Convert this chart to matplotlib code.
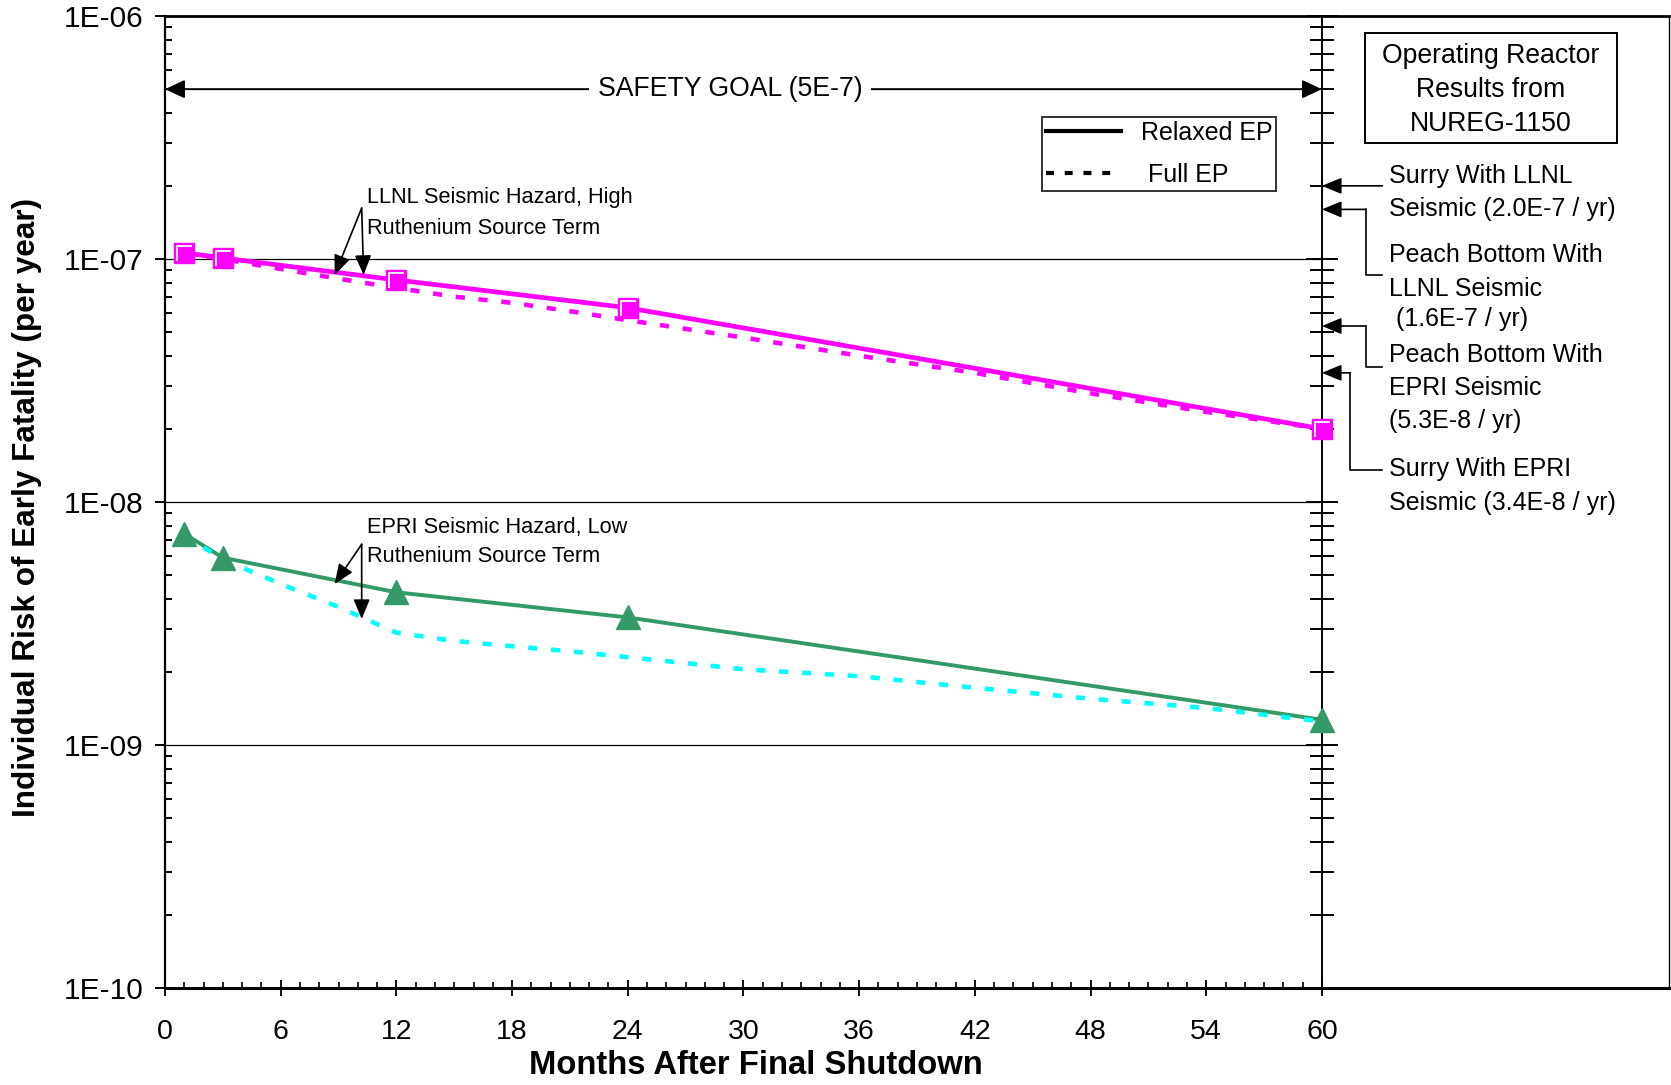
import matplotlib
matplotlib.use("Agg")
import matplotlib.pyplot as plt
from matplotlib.lines import Line2D
from matplotlib.patches import Rectangle
from matplotlib.path import Path
from matplotlib.ticker import FixedLocator, FuncFormatter, LogLocator, NullFormatter
import numpy as np

plt.rcParams['font.family'] = ['Liberation Sans', 'DejaVu Sans']

# ---------------- data ----------------
months_relaxed = [1, 3, 12, 24, 60]
llnl_relaxed = [1.06e-7, 1.01e-7, 8.2e-8, 6.3e-8, 2.0e-8]
epri_relaxed = [7.4e-9, 5.9e-9, 4.25e-9, 3.35e-9, 1.27e-9]

months_full = [1, 3, 6, 9, 12, 15, 18, 21, 24, 30, 36, 42, 48, 54, 60]
llnl_full = [1.06e-7, 1.0e-7, 9.1e-8, 8.3e-8, 7.6e-8, 7.0e-8, 6.6e-8, 6.1e-8,
             5.6e-8, 4.75e-8, 4.0e-8, 3.4e-8, 2.8e-8, 2.35e-8, 2.0e-8]
epri_full = [7.3e-9, 5.8e-9, 4.6e-9, 3.7e-9, 2.9e-9, 2.68e-9, 2.55e-9, 2.43e-9,
             2.3e-9, 2.05e-9, 1.92e-9, 1.72e-9, 1.55e-9, 1.42e-9, 1.25e-9]

safety_goal = 5e-7
reactor_labels = [["Surry With LLNL", "Seismic (2.0E-7 / yr)"],
                  ["Peach Bottom With", "LLNL Seismic", " (1.6E-7 / yr)"],
                  ["Peach Bottom With", "EPRI Seismic", "(5.3E-8 / yr)"],
                  ["Surry With EPRI", "Seismic (3.4E-8 / yr)"]]
reactor_values = [2.0e-7, 1.6e-7, 5.3e-8, 3.4e-8]

x_ticks = list(range(0, 61, 6))
y_ticks = [1e-10, 1e-9, 1e-8, 1e-7, 1e-6]
y_tick_labels = ["1E-10", "1E-09", "1E-08", "1E-07", "1E-06"]

# ---------------- figure ----------------
W, H = 1671, 1085
fig = plt.figure(figsize=(W / 100, H / 100), dpi=100)
AX_L, AX_R, AX_T, AX_B = 165, 1669, 16, 988
ax = fig.add_axes([AX_L / W, 1 - AX_B / H, (AX_R - AX_L) / W, (AX_B - AX_T) / H])

def fx(px):
    return (px - AX_L) / (AX_R - AX_L)

def fy(py):
    return 1 - (py - AX_T) / (AX_B - AX_T)

ax.set_yscale('log')
ax.set_xlim(0, 78)
ax.set_ylim(1e-10, 1e-6)

MAG = '#FF00FF'
GRN = '#339966'
CYN = '#00FFFF'
DASH = (0, (2.0, 3.0))

# grid lines (only 0..60)
for yv in y_ticks[1:-1]:
    ax.plot([0, 60], [yv, yv], color='black', lw=0.9, zorder=1)

# series
ax.plot(months_relaxed, llnl_relaxed, color=MAG, lw=3.4, zorder=3)
ax.plot(months_full, llnl_full, color=MAG, lw=3.3, ls=DASH, zorder=4)
ax.plot(months_relaxed, epri_relaxed, color=GRN, lw=2.8, zorder=3)
ax.plot(months_full, epri_full, color=CYN, lw=3.3, ls=DASH, zorder=4)

ax.plot(months_relaxed, llnl_relaxed, ls='none', marker='s', ms=15,
        mfc=MAG, mec=MAG, zorder=5)
Lpath = Path([(-0.8, -0.9), (-0.8, 0.8), (0.9, 0.8)], [Path.MOVETO, Path.LINETO, Path.LINETO])
ax.plot(months_relaxed, llnl_relaxed, ls='none', marker=Lpath, ms=11,
        mfc='none', mec='white', mew=1.3, zorder=6)
ax.plot(months_relaxed, epri_relaxed, ls='none', marker='^', ms=17,
        mfc=GRN, mec=GRN, zorder=5)

# spines
ax.spines['left'].set_linewidth(1.6)
ax.spines['bottom'].set_linewidth(2.2)
ax.spines['top'].set_linewidth(2.0)
ax.spines['right'].set_linewidth(1.0)

# ticks
ax.xaxis.set_major_locator(FixedLocator(x_ticks))
ax.xaxis.set_minor_locator(FixedLocator([m for m in range(1, 60) if m % 6]))
ax.set_xticklabels([str(t) for t in x_ticks])
ax.yaxis.set_major_locator(FixedLocator(y_ticks))
ax.yaxis.set_major_formatter(FuncFormatter(lambda v, p: y_tick_labels[y_ticks.index(v)] if v in y_ticks else ''))
ax.yaxis.set_minor_locator(LogLocator(base=10, subs=np.arange(2, 10), numticks=20))
ax.yaxis.set_minor_formatter(NullFormatter())
ax.tick_params(axis='y', which='major', direction='out', length=7.5, width=1.4,
               labelsize=21.5, pad=8)
ax.tick_params(axis='y', which='minor', direction='in', length=4.8, width=1.4)
ax.tick_params(axis='x', which='major', direction='inout', length=11, width=1.3,
               labelsize=20.5, pad=17)
ax.tick_params(axis='x', which='minor', direction='in', length=4.5, width=1.2)

# secondary vertical axis at x = 60
sec = ax.secondary_yaxis(60 / 78)
sec.tick_params(which='major', direction='inout', length=23, width=1.4,
                labelright=False, labelleft=False)
sec.tick_params(which='minor', direction='inout', length=17, width=1.4,
                labelright=False, labelleft=False)
for s in sec.spines.values():
    s.set_linewidth(1.4)

# axis labels
fig.text(756 / W, 1 - 1066 / H, "Months After Final Shutdown", fontsize=23.6,
         fontweight='bold', ha='center', va='center')
fig.text(27 / W, 1 - 507 / H, "Individual Risk of Early Fatality (per year)",
         fontsize=22.7, fontweight='bold', rotation=90, ha='center', va='center')

# safety goal double arrow
ax.annotate('', xy=(0, safety_goal), xytext=(60, safety_goal),
            arrowprops=dict(arrowstyle='<|-|>,head_length=0.6,head_width=0.28',
                            color='black', lw=1.4, shrinkA=0, shrinkB=0,
                            mutation_scale=20), zorder=2)
ax.text(29.3, safety_goal, "SAFETY GOAL (5E-7)", fontsize=19.2, ha='center',
        va='center', zorder=3,
        bbox=dict(facecolor='white', edgecolor='none', pad=6))

# legend
handles = [Line2D([], [], color='black', lw=3),
           Line2D([], [], color='black', lw=3, ls=(0, (1.9, 2.6)))]
leg = ax.legend(handles, ["Relaxed EP", " Full EP"], loc='upper left',
                bbox_to_anchor=(fx(1042), fy(117)), borderaxespad=0,
                fontsize=18, frameon=True, fancybox=False, handlelength=3.0,
                handletextpad=0.8, labelspacing=0.72, borderpad=0.15)
leg.get_frame().set_edgecolor('black')
leg.get_frame().set_linewidth(1.4)

# NUREG box
ax.add_patch(Rectangle((fx(1365), fy(143)), fx(1617) - fx(1365), fy(33) - fy(143),
                       transform=ax.transAxes, fill=False, ec='black', lw=1.4,
                       clip_on=False))
for txt, py in zip(["Operating Reactor", "Results from", "NUREG-1150"], [56, 90, 124]):
    ax.text(fx(1491), fy(py), txt, transform=ax.transAxes, fontsize=19.2,
            ha='center', va='center')

# LLNL / EPRI annotations
arrow_kw = dict(arrowstyle='-|>,head_length=0.6,head_width=0.25', color='black',
                lw=1.2, shrinkA=0, shrinkB=0, mutation_scale=20)
for tip in [(8.8, 8.6e-8), (10.3, 8.6e-8)]:
    ax.annotate('', xy=tip, xytext=(10.2, 1.62e-7), arrowprops=arrow_kw)
for tip in [(8.8, 4.6e-9), (10.2, 3.3e-9)]:
    ax.annotate('', xy=tip, xytext=(10.2, 6.7e-9), arrowprops=arrow_kw)
for txt, py in [("LLNL Seismic Hazard, High", 198), ("Ruthenium Source Term", 229),
                ("EPRI Seismic Hazard, Low", 527), ("Ruthenium Source Term", 557)]:
    ax.text(fx(367), fy(py), txt, transform=ax.transAxes, fontsize=15.7,
            ha='left', va='center')

# right-side reactor annotations
text_rows = [[176, 209], [255, 289, 319], [355, 388, 421], [469, 503]]
elbows = [None, (62.26, 8.6e-8), (62.26, 3.6e-8), (61.48, 1.36e-8)]
for lines, rows, val, elb in zip(reactor_labels, text_rows, reactor_values, elbows):
    for txt, py in zip(lines, rows):
        ax.text(fx(1389), fy(py), txt, transform=ax.transAxes, fontsize=18,
                ha='left', va='center')
    if elb is None:
        ax.annotate('', xy=(60, val), xytext=(63.14, val), arrowprops=arrow_kw)
    else:
        ex, ey = elb
        ax.plot([63.14, ex, ex], [ey, ey, val], color='black', lw=1.2)
        ax.annotate('', xy=(60, val), xytext=(ex, val), arrowprops=arrow_kw)

fig.savefig('out.png', dpi=100)
